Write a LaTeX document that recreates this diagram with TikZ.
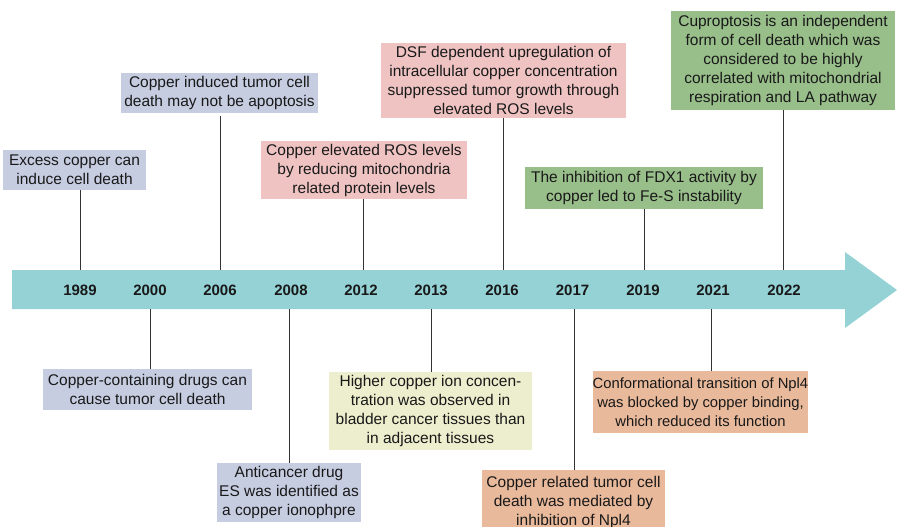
\documentclass[tikz,border=0pt]{standalone}
\usepackage{fontspec}
\setmainfont{Liberation Sans}
\definecolor{cblue}{RGB}{198,205,225}
\definecolor{cpink}{RGB}{240,195,195}
\definecolor{cgreen}{RGB}{152,190,138}
\definecolor{cyellow}{RGB}{236,238,205}
\definecolor{corange}{RGB}{233,185,155}
\definecolor{cbar}{RGB}{148,210,214}
\definecolor{cline}{RGB}{50,50,50}
\begin{document}
\begin{tikzpicture}[x=1pt,y=-1pt,
  box/.style={inner sep=0pt, align=center, font=\fontsize{15.5}{19}\selectfont, text=black!90},
  yr/.style={font=\fontsize{15}{18}\selectfont\bfseries, text=black!90},
  conn/.style={draw=cline, line width=0.9pt}]
\useasboundingbox (0,0) rectangle (897,527);
% timeline arrow
\fill[cbar] (12,270) -- (845,270) -- (845,252) -- (897,290) -- (845,328) -- (845,309) -- (12,309) -- cycle;
\coordinate (bartop) at (0,270);
\coordinate (barbot) at (0,309);
% years
\foreach \n/\xx in {1989/80,2000/150,2006/220,2008/291,2012/361,2013/431,2016/502,2017/572.5,2019/643,2021/713,2022/784}
  \node[yr] (y\n) at (\xx,290) {\n};
% coordinates for connectors
\coordinate (x1989) at (80,0);
\coordinate (x2006) at (220,0);
\coordinate (x2012) at (363,0);
\coordinate (x2016) at (503,0);
\coordinate (x2019) at (644,0);
\coordinate (x2022) at (783,0);
\coordinate (x2000) at (150.5,0);
\coordinate (x2008) at (289,0);
\coordinate (x2013) at (431.5,0);
\coordinate (x2017) at (574,0);
\coordinate (x2021) at (711,0);
% upper boxes
\node[box, fill=cblue, minimum width=143, minimum height=40] (b1) at (74.5,169.5) {Excess copper can\\induce cell death};
\node[box, fill=cblue, minimum width=197, minimum height=40] (b2) at (219.5,93) {Copper induced tumor cell\\death may not be apoptosis};
\node[box, fill=cpink, minimum width=206, minimum height=58] (b3) at (364,170) {Copper elevated ROS levels\\by reducing mitochondria\\related protein levels};
\node[box, fill=cpink, minimum width=245, minimum height=75] (b4) at (503.5,80.5) {DSF dependent upregulation of\\intracellular copper concentration\\suppressed tumor growth through\\elevated ROS levels};
\node[box, fill=cgreen, minimum width=238, minimum height=42] (b5) at (644,188) {The inhibition of FDX1 activity by\\copper led to Fe-S instability};
\node[box, fill=cgreen, minimum width=224, minimum height=99] (b6) at (783,60.5) {Cuproptosis is an independent\\form of cell death which was\\considered to be highly\\correlated with mitochondrial\\respiration and LA pathway};
% lower boxes
\node[box, fill=cblue, minimum width=209, minimum height=41] (b7) at (147.5,389.5) {Copper-containing drugs can\\cause tumor cell death};
\node[box, fill=cblue, minimum width=144, minimum height=59] (b8) at (289,492.5) {Anticancer drug\\ES was identified as\\a copper ionophpre};
\node[box, fill=cyellow, minimum width=203, minimum height=78] (b9) at (430.5,411) {Higher copper ion concen-\\tration was observed in\\bladder cancer tissues than\\in adjacent tissues};
\node[box, fill=corange, minimum width=183, minimum height=64] (b10) at (573.5,502) {Copper related tumor cell\\death was mediated by\\inhibition of Npl4};
\node[box, fill=corange, minimum width=215, minimum height=62, font=\fontsize{14.8}{19}\selectfont] (b11) at (700.5,402) {Conformational transition of Npl4\\was blocked by copper binding,\\which reduced its function};
% connectors upper
\draw[conn] (x1989 |- b1.south) -- (x1989 |- bartop);
\draw[conn] (x2006 |- b2.south) ++(0,3) -- (x2006 |- bartop);
\draw[conn] (x2012 |- b3.south) -- (x2012 |- bartop);
\draw[conn] (x2016 |- b4.south) -- (x2016 |- bartop);
\draw[conn] (x2019 |- b5.south) -- (x2019 |- bartop);
\draw[conn] (x2022 |- b6.south) -- (x2022 |- bartop);
% connectors lower
\draw[conn] (x2000 |- barbot) -- (x2000 |- b7.north);
\draw[conn] (x2008 |- barbot) -- (x2008 |- b8.north);
\draw[conn] (x2013 |- barbot) -- (x2013 |- b9.north);
\draw[conn] (x2017 |- barbot) -- (x2017 |- b10.north);
\draw[conn] (x2021 |- barbot) -- (x2021 |- b11.north);
\end{tikzpicture}
\end{document}
